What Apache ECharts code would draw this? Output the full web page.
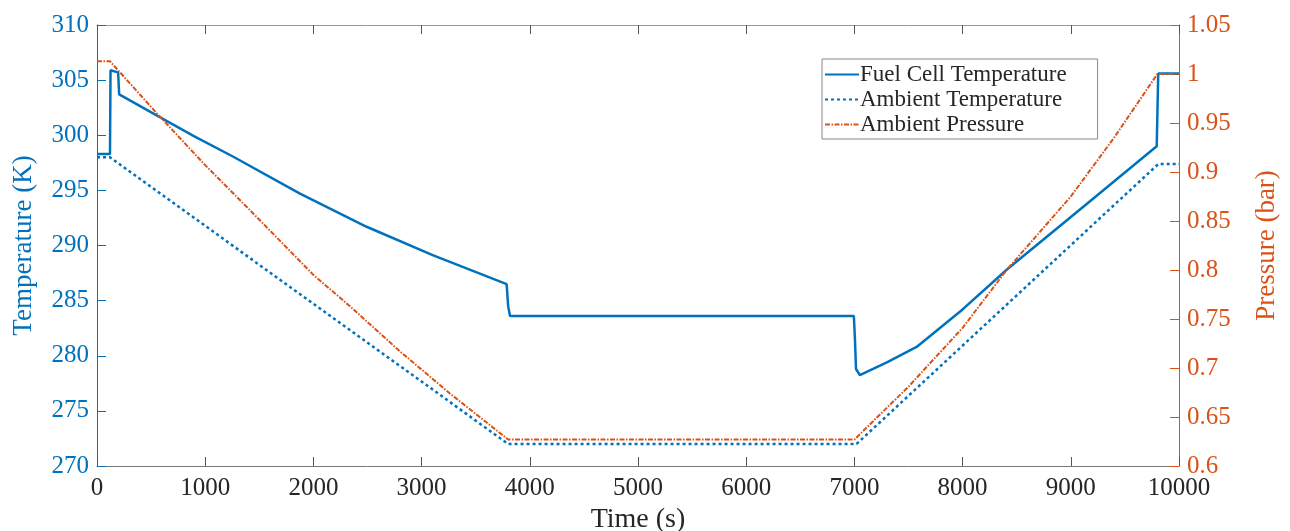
<!DOCTYPE html>
<html>
<head>
<meta charset="utf-8">
<script src="https://cdn.jsdelivr.net/npm/echarts@6/dist/echarts.min.js"></script>
<style>
  html, body { margin: 0; padding: 0; background: #fff; }
  #chart { width: 1290px; height: 531px; }
</style>
</head>
<body>
<div id="chart"></div>
<script>
// values
var cellTime = [0, 120, 125, 195, 205, 551, 900, 1260, 1876, 2492, 3108, 3786, 3800, 3817, 6995, 7005, 7015, 7050, 7300, 7575, 8000, 8407, 9113, 9794, 9808, 10000];
var cellTemp = [298.3, 298.3, 305.9, 305.7, 303.7, 301.8, 299.9, 298.05, 294.7, 291.7, 289.1, 286.5, 284.5, 283.6, 283.6, 281.5, 278.8, 278.25, 279.4, 280.8, 284.2, 287.8, 293.5, 299.0, 305.6, 305.6];

var ambTime = [0, 120, 3800, 7020, 9810, 10000];
var ambTemp = [298.0, 298.0, 272.0, 272.0, 297.4, 297.4];

var presTime = [0, 120, 552, 1000, 1414, 2000, 2338, 2800, 3262, 3800, 7000, 7500, 8000, 8407, 9000, 9400, 9800, 10000];
var presBar = [1.013, 1.013, 0.960, 0.907, 0.861, 0.795, 0.763, 0.717, 0.674, 0.627, 0.627, 0.681, 0.741, 0.80, 0.875, 0.935, 1.0, 1.0];

var names = ['Fuel Cell Temperature', 'Ambient Temperature', 'Ambient Pressure'];

function pairs(xs, ys) {
    var out = [];
    for (var i = 0; i < xs.length; i++) out.push([xs[i], ys[i]]);
    return out;
}

var blue = '#0072BD';
var orange = '#D95319';
var serif = '"Liberation Serif", "DejaVu Serif", serif';

var chart = echarts.init(document.getElementById('chart'));
var option = {
    animation: false,
    backgroundColor: '#fff',
    textStyle: { fontFamily: serif },
    grid: { left: 97, right: 111, top: 25, bottom: 65, containLabel: false, outerBoundsMode: 'none' },
    legend: {
        data: names,
        orient: 'vertical',
        left: 822,
        top: 59,
        itemWidth: 34,
        itemHeight: 14,
        itemGap: 2,
        padding: [4, 31, 3, 2],
        borderColor: '#888',
        borderWidth: 1,
        backgroundColor: '#fff',
        itemStyle: { opacity: 0 },
        textStyle: { fontFamily: serif, fontSize: 23, color: '#262626', padding: [0, 0, 0, -4] }
    },
    xAxis: [{
        type: 'value',
        min: 0, max: 10000, interval: 1000,
        name: 'Time (s)',
        nameLocation: 'middle',
        nameGap: 38,
        nameTextStyle: { fontFamily: serif, fontSize: 28, color: '#262626' },
        axisLine: { onZero: false, lineStyle: { color: '#777', width: 1 } },
        axisTick: { inside: true, length: 9, lineStyle: { color: '#555' } },
        axisLabel: { fontFamily: serif, fontSize: 25, color: '#262626', margin: 10,
            formatter: function (v) { return String(v); } },
        splitLine: { show: false }
    }, {
        type: 'value',
        position: 'top',
        min: 0, max: 10000, interval: 1000,
        axisLine: { show: true, onZero: false, lineStyle: { color: '#999', width: 1 } },
        axisTick: { inside: true, length: 9, lineStyle: { color: '#555' } },
        axisLabel: { show: false },
        splitLine: { show: false }
    }],
    yAxis: [{
        type: 'value',
        position: 'left',
        min: 270, max: 310, interval: 5,
        name: 'Temperature (K)',
        nameLocation: 'middle',
        nameGap: 60,
        nameTextStyle: { fontFamily: serif, fontSize: 27, color: blue },
        axisLine: { show: true, onZero: false, lineStyle: { color: blue, width: 1 } },
        axisTick: { show: true, inside: true, length: 9, lineStyle: { color: blue } },
        axisLabel: { fontFamily: serif, fontSize: 25, color: blue, margin: 8 },
        splitLine: { show: false }
    }, {
        type: 'value',
        position: 'right',
        min: 0.6, max: 1.05, interval: 0.05,
        name: 'Pressure (bar)',
        nameLocation: 'middle',
        nameGap: 74,
        nameTextStyle: { fontFamily: serif, fontSize: 27, color: orange },
        axisLine: { show: true, onZero: false, lineStyle: { color: orange, width: 1 } },
        axisTick: { show: true, inside: true, length: 9, lineStyle: { color: orange } },
        axisLabel: { fontFamily: serif, fontSize: 25, color: orange, margin: 8 },
        splitLine: { show: false }
    }],
    series: [{
        name: names[0],
        type: 'line',
        symbol: 'none',
        color: blue,
        lineStyle: { color: blue, width: 2.5 },
        data: pairs(cellTime, cellTemp)
    }, {
        name: names[1],
        type: 'line',
        symbol: 'none',
        color: blue,
        lineStyle: { color: blue, width: 2.5, type: [3, 3] },
        data: pairs(ambTime, ambTemp)
    }, {
        name: names[2],
        type: 'line',
        yAxisIndex: 1,
        symbol: 'none',
        color: orange,
        lineStyle: { color: orange, width: 2, type: [5, 1.5, 1.5, 1.5] },
        data: pairs(presTime, presBar)
    }]
};
chart.setOption(option);
</script>
</body>
</html>
